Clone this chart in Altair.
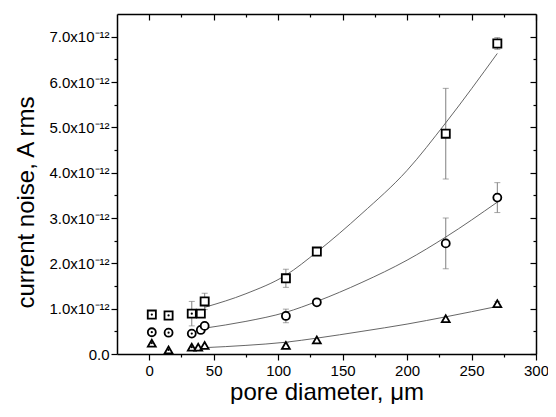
import altair as alt
import pandas as pd

# ---- data (current noise in units of 1e-12 A rms) ----
sq_x = [2, 15, 33, 40, 43, 106, 130, 230, 270]
sq_y = [0.87, 0.85, 0.89, 0.89, 1.16, 1.67, 2.26, 4.86, 6.85]
sq_err = [0, 0, 0.27, 0, 0.18, 0.20, 0, 1.00, 0.13]

ci_x = [2, 15, 33, 40, 43, 106, 130, 230, 270]
ci_y = [0.48, 0.47, 0.45, 0.53, 0.62, 0.84, 1.14, 2.44, 3.45]
ci_err = [0, 0, 0, 0, 0, 0.15, 0, 0.56, 0.33]

tr_x = [2, 15, 33, 38, 43, 106, 130, 230, 270]
tr_y = [0.24, 0.09, 0.15, 0.15, 0.19, 0.19, 0.31, 0.78, 1.11]
tr_err = [0, 0, 0, 0, 0, 0.06, 0, 0, 0.05]

dotted_count = 3  # first three points of each series have a centre dot

fit_x = [43, 75, 106, 130, 165, 200, 230, 270]
fit_sq = [1.03, 1.33, 1.74, 2.25, 3.10, 4.05, 5.10, 6.63]
fit_ci = [0.57, 0.72, 0.92, 1.16, 1.58, 2.07, 2.58, 3.35]
fit_tr = [0.14, 0.19, 0.26, 0.35, 0.50, 0.66, 0.82, 1.05]

x_ticks = [0, 25, 50, 75, 100, 125, 150, 175, 200, 225, 250, 275, 300]
y_ticks = [0, 0.5, 1, 1.5, 2, 2.5, 3, 3.5, 4, 4.5, 5, 5.5, 6, 6.5, 7]

series_names = ["sq", "ci", "tr"]

# ---- tables ----
rows = []
for name, xs_, ys_, es_ in [("sq", sq_x, sq_y, sq_err), ("ci", ci_x, ci_y, ci_err), ("tr", tr_x, tr_y, tr_err)]:
    for i, (x, y, e) in enumerate(zip(xs_, ys_, es_)):
        rows.append(dict(series=name, x=x, y=y, err=e, lo=y - e, hi=y + e, dotted=i < dotted_count))
pts = pd.DataFrame(rows)
errs = pts[pts.err > 0]
caps = pd.concat([errs.assign(yc=errs.lo), errs.assign(yc=errs.hi)])
dots = pts[pts.dotted]

fit_rows = []
for name, vals in [("sq", fit_sq), ("ci", fit_ci), ("tr", fit_tr)]:
    for x, y in zip(fit_x, vals):
        fit_rows.append(dict(series=name, x=x, y=y))
fits = pd.DataFrame(fit_rows)

W, H = 419, 340
xscale = alt.Scale(domain=[-25, 300], nice=False)
yscale = alt.Scale(domain=[0, 7.5], nice=False, zero=False)

FONT = "Liberation Sans"
x_tick_size = {"condition": {"test": "datum.value % 50 != 0", "value": 3}, "value": 6}
y_tick_size = {"condition": {"test": "datum.value % 1 != 0", "value": 3}, "value": 6}
common = dict(grid=False, domainColor="black", domainWidth=1.5, tickColor="black", tickWidth=1.2,
              labelFont=FONT, labelFontSize=15, labelColor="black", titleFont=FONT,
              titleFontSize=24, titleFontWeight="normal", titleColor="black")

x_main = alt.Axis(orient="bottom", values=x_ticks, tickSize=x_tick_size,
                  labelExpr="datum.value % 50 == 0 ? datum.label : ''",
                  labelPadding=3, labelFlush=False, labelOverlap=False,
                  title="pore diameter, μm", titleX=W / 2, titleY=45,
                  titleBaseline="alphabetic", titleAlign="center", **common)
x_top = alt.Axis(orient="bottom", offset=-H, values=x_ticks, tickSize=x_tick_size,
                 labels=False, title=None, **common)
y_main = alt.Axis(orient="left", values=y_ticks, tickSize=y_tick_size,
                  labelExpr="datum.value % 1 != 0 ? '' : (datum.value == 0 ? '0.0' : format(datum.value, '.1f') + 'x10⁻¹²')",
                  labelPadding=2, labelFlush=False, labelOverlap=False,
                  title="current noise, A rms", titleX=-84, titleY=188, titleAngle=270,
                  titleBaseline="alphabetic", titleAlign="center", **common)
y_right = alt.Axis(orient="left", offset=-W, values=y_ticks, tickSize=y_tick_size,
                   labels=False, title=None, **common)

rules = alt.Chart(errs).mark_rule(color="#808080", strokeWidth=1).encode(
    x=alt.X("x:Q", scale=xscale, axis=x_main),
    y=alt.Y("lo:Q", scale=yscale, axis=y_main),
    y2="hi:Q",
)
cap_layer = alt.Chart(caps).mark_tick(orient="horizontal", size=6, thickness=1, color="#808080").encode(
    x=alt.X("x:Q", scale=xscale, axis=x_top),
    y=alt.Y("yc:Q", scale=yscale, axis=y_right),
)
lines = alt.Chart(fits).mark_line(color="#555555", strokeWidth=0.9, interpolate="monotone").encode(
    x=alt.X("x:Q", scale=xscale, axis=None),
    y=alt.Y("y:Q", scale=yscale, axis=None),
    detail="series:N",
)
points = alt.Chart(pts).mark_point(filled=True, fill="white", stroke="black", strokeWidth=1.8, opacity=1).encode(
    x=alt.X("x:Q", scale=xscale, axis=None),
    y=alt.Y("y:Q", scale=yscale, axis=None),
    shape=alt.Shape("series:N", scale=alt.Scale(domain=series_names, range=["square", "circle", "triangle-up"]), legend=None),
    size=alt.Size("series:N", scale=alt.Scale(domain=series_names, range=[66, 62, 125]), legend=None),
)
dot_layer = alt.Chart(dots).mark_point(filled=True, color="black", size=5, opacity=1).encode(
    x=alt.X("x:Q", scale=xscale, axis=None),
    y=alt.Y("y:Q", scale=yscale, axis=None),
)

chart = alt.layer(rules, cap_layer, lines, points, dot_layer).resolve_axis(
    x="independent", y="independent"
).properties(
    width=W, height=H,
    autosize=alt.AutoSizeParams(type="none"),
    padding={"left": 109, "top": 6, "right": 12, "bottom": 50},
).configure_view(stroke=None)

chart.save("out.html", embed_options={"renderer": "svg", "actions": False})
